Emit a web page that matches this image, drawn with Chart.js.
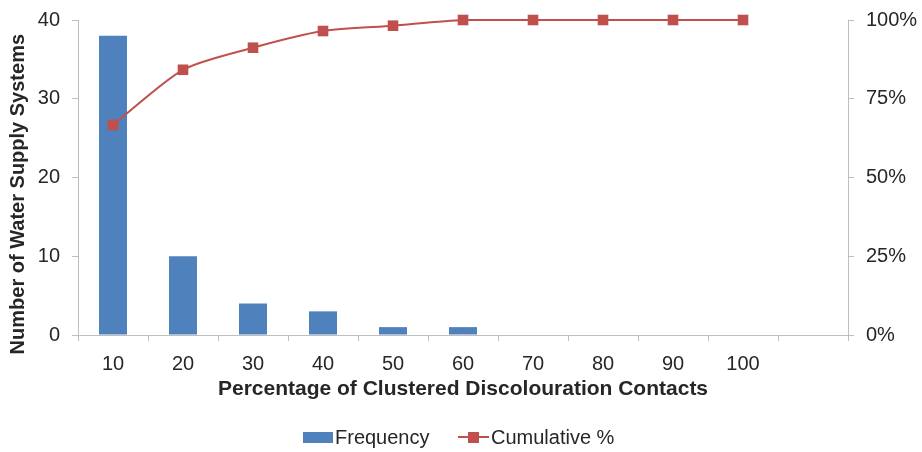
<!DOCTYPE html>
<html>
<head>
<meta charset="utf-8">
<script src="https://cdn.jsdelivr.net/npm/chart.js@4.4.0/dist/chart.umd.min.js"></script>
<style>
  html, body { margin: 0; padding: 0; background: #fff; }
  #wrap { width: 922px; height: 452px; }
</style>
</head>
<body>
<div id="wrap"><canvas id="pareto"></canvas></div>
<script>
// bins of clustered discolouration contacts (%), last bin is the empty overflow bin
const categories = ['10', '20', '30', '40', '50', '60', '70', '80', '90', '100', ''];
const frequency = [38, 10, 4, 3, 1, 1, 0, 0, 0, 0, 0];
const cumulativePct = [66.7, 84.2, 91.2, 96.5, 98.2, 100, 100, 100, 100, 100, null];
const pctTicks = [0, 25, 50, 75, 100];

const BLUE = '#4f81bd';
const RED = '#c0504d';
const AXIS = '#bfbfbf';
const TEXT = '#262626';
const FONT = "'Liberation Sans', Arial, sans-serif";

// simple legend drawn under the x-axis title
const paretoLegend = {
    id: 'paretoLegend',
    afterDraw(chart) {
        const ctx = chart.ctx;
        const y = 437;
        ctx.save();
        ctx.font = '20px ' + FONT;
        ctx.textBaseline = 'middle';

        ctx.fillStyle = BLUE;
        ctx.fillRect(303, y - 5, 30, 11);
        ctx.fillStyle = TEXT;
        ctx.fillText('Frequency', 335, y + 1);

        ctx.strokeStyle = RED;
        ctx.lineWidth = 2;
        ctx.beginPath();
        ctx.moveTo(458, y);
        ctx.lineTo(489, y);
        ctx.stroke();
        ctx.fillStyle = RED;
        ctx.fillRect(468, y - 5, 11, 11);
        ctx.fillStyle = TEXT;
        ctx.fillText('Cumulative %', 491, y + 1);
        ctx.restore();
    }
};

const ctx = document.getElementById('pareto').getContext('2d');
new Chart(ctx, {
    data: {
        labels: categories,
        datasets: [
            {
                type: 'line',
                label: 'Cumulative %',
                data: cumulativePct,
                yAxisID: 'y2',
                borderColor: RED,
                backgroundColor: RED,
                borderWidth: 2,
                pointStyle: 'rect',
                pointRadius: 7.5,
                pointBorderWidth: 0,
                tension: 0.25,
                clip: false,
                order: 0
            },
            {
                type: 'bar',
                label: 'Frequency',
                data: frequency,
                yAxisID: 'y',
                backgroundColor: BLUE,
                categoryPercentage: 1,
                barPercentage: 0.4,
                order: 1
            }
        ]
    },
    options: {
        responsive: true,
        maintainAspectRatio: false,
        animation: false,
        layout: { padding: { top: 4, bottom: 50, left: 0, right: 0 } },
        plugins: {
            legend: { display: false },
            tooltip: { enabled: false }
        },
        scales: {
            x: {
                grid: { display: true, drawOnChartArea: false, drawTicks: true, tickLength: 6, color: AXIS, offset: true },
                border: { color: AXIS, width: 1 },
                ticks: { color: TEXT, font: { family: FONT, size: 20 }, padding: 11, maxRotation: 0 },
                title: {
                    display: true,
                    text: 'Percentage of Clustered Discolouration Contacts',
                    color: TEXT,
                    font: { family: FONT, size: 21, weight: 'bold' },
                    padding: { top: 0, bottom: 0 }
                },
                afterFit: s => { s.height = 67; }
            },
            y: {
                position: 'left',
                min: 0,
                max: 40,
                ticks: { stepSize: 10, color: TEXT, font: { family: FONT, size: 20, lineHeight: 0.8 }, padding: 12 },
                grid: { drawOnChartArea: false, tickLength: 6, color: AXIS },
                border: { color: AXIS },
                title: {
                    display: true,
                    // trailing spaces nudge the rotated title a little lower, as in the original
                    text: 'Number of Water Supply Systems      ',
                    color: TEXT,
                    font: { family: FONT, size: 20, weight: 'bold' },
                    padding: { top: 6, bottom: 4 }
                },
                afterFit: s => { s.width = 78; }
            },
            y2: {
                position: 'right',
                min: 0,
                max: 100,
                afterBuildTicks: s => { s.ticks = pctTicks.map(v => ({ value: v })); },
                ticks: { color: TEXT, font: { family: FONT, size: 20, lineHeight: 0.8 }, padding: 12, callback: v => v + '%' },
                grid: { drawOnChartArea: false, tickLength: 6, color: AXIS },
                border: { color: AXIS },
                afterFit: s => { s.width = 74; }
            }
        }
    },
    plugins: [paretoLegend]
});
</script>
</body>
</html>
